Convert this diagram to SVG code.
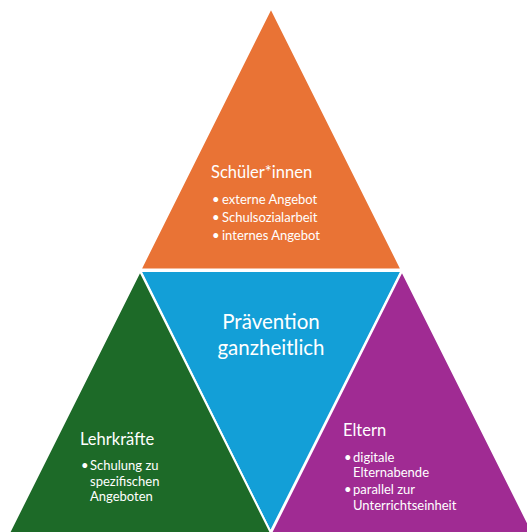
<svg xmlns="http://www.w3.org/2000/svg" width="527" height="532" viewBox="0 0 527 532">
<style>
.tri{stroke:#fff;stroke-width:2;stroke-linejoin:miter}
text{font-family:Lato,"Open Sans","Liberation Sans",sans-serif;fill:#fff}
.h{font-size:16.5px}
.b{font-size:13px}
.c{font-size:20.5px;text-anchor:middle}
</style>
<rect width="527" height="532" fill="#fff"/>
<g id="schueler">
<polygon class="tri" fill="#E97335" points="271,8 140.5,269.5 401.5,269.5"/>
<text class="h" x="211" y="178">Schüler*innen</text>
<text class="b" x="212" y="204">•</text><text class="b" x="222" y="204">externe Angebot</text>
<text class="b" x="212" y="222">•</text><text class="b" x="222" y="222">Schulsozialarbeit</text>
<text class="b" x="212" y="240">•</text><text class="b" x="222" y="240">internes Angebot</text>
</g>
<g id="praevention">
<polygon class="tri" fill="#139FD7" points="140.5,271 401.5,271 270.5,532"/>
<text class="c" x="271" y="329">Prävention</text>
<text class="c" x="271" y="355">ganzheitlich</text>
</g>
<g id="lehrkraefte">
<polygon class="tri" fill="#1D6A28" points="140,271 9,533 271,533"/>
<text class="h" x="80" y="445">Lehrkräfte</text>
<text class="b" x="81" y="470">•</text><text class="b" x="90" y="470">Schulung zu</text>
<text class="b" x="90" y="486">spezifischen</text>
<text class="b" x="90" y="501">Angeboten</text>
</g>
<g id="eltern">
<polygon class="tri" fill="#A02B93" points="402,271 271,533 533,533"/>
<text class="h" x="343" y="436">Eltern</text>
<text class="b" x="344" y="462">•</text><text class="b" x="353" y="462">digitale</text>
<text class="b" x="353" y="477">Elternabende</text>
<text class="b" x="344" y="494">•</text><text class="b" x="353" y="494">parallel zur</text>
<text class="b" x="353" y="510">Unterrichtseinheit</text>
</g>
<g id="connectors"/>
</svg>
